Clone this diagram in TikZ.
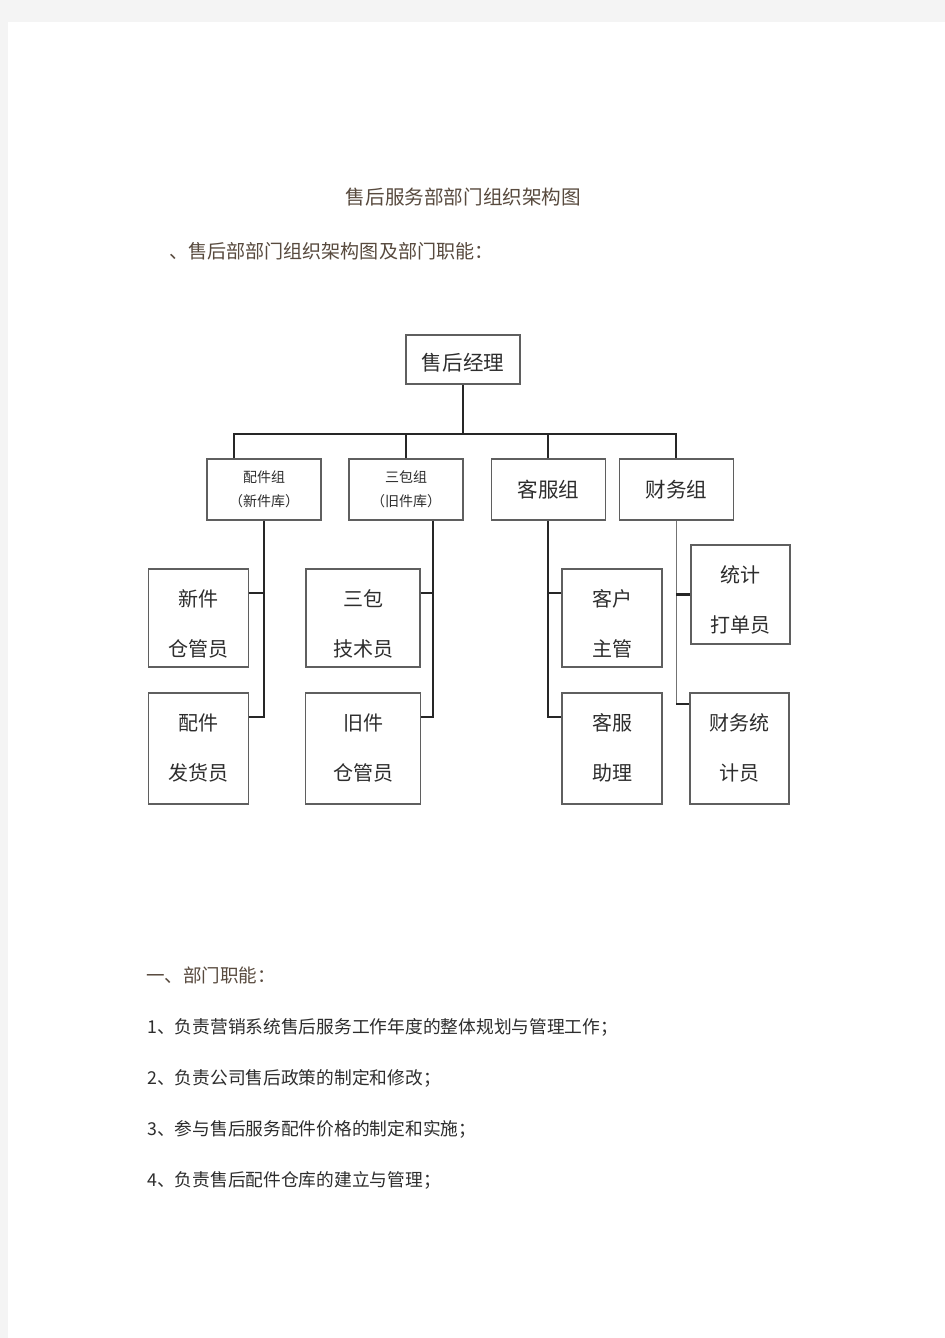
\documentclass[tikz,border=0pt]{standalone}
\usepackage{fontspec}
\setmainfont{Noto Sans CJK SC}
\usepackage{tikz}
\usetikzlibrary{positioning,calc}

\definecolor{pagegray}{RGB}{244,244,244}
\definecolor{boxline}{RGB}{95,95,95}
\definecolor{headcol}{RGB}{88,74,62}
\definecolor{bodycol}{RGB}{45,45,45}

\begin{document}
\begin{tikzpicture}[x=0.75pt,y=-0.75pt,
  box/.style={draw=boxline,line width=1.1pt,fill=white,inner sep=0pt,align=center,text=bodycol},
  role/.style={box,minimum width=75pt,font=\fontsize{15pt}{37.5pt}\selectfont,text depth=0pt},
  short role/.style={role,minimum height=73.5pt,text height=57.9pt},
  tall role/.style={role,minimum height=83.25pt,text height=48.15pt},
  group/.style={box,minimum width=85.5pt,minimum height=45.75pt},
  small/.style={font=\fontsize{10.5pt}{18pt}\selectfont},
  big/.style={font=\fontsize{15.4pt}{18pt}\selectfont},
  link/.style={line width=1.6pt,black!85},
  thin link/.style={line width=1pt,black!55},
  txtline/.style={anchor=west,inner sep=0pt,text=bodycol,font=\fontsize{13.3pt}{16pt}\selectfont}]

% page
\fill[pagegray] (0,0) rectangle (945,1338);
\fill[white] (8,22) rectangle (945,1338);

% headings
\node[inner sep=0pt,text=headcol,font=\fontsize{14.7pt}{18pt}\selectfont] (title) at (463.5,197) {售后服务部部门组织架构图};
\node[txtline,text=headcol,font=\fontsize{14.3pt}{18pt}\selectfont] (sub) at (169,251) {、售后部部门组织架构图及部门职能：};

% chart
\node[box,big,minimum width=85.5pt,minimum height=36.75pt,text height=17pt,text depth=0.5pt] (mgr) at (463,359.5) {售后经理};

\node[group,small] (pj) at (264,489.5) {配件组\\（新件库）};
\node[group,small] (sb) [right=20pt of pj] {三包组\\（旧件库）};
\node[group,big]   (kf) [right=20pt of sb] {客服组};
\node[group,big]   (cw) [right=9.5pt of kf] {财务组};

\node[short role] (xj) at (198.5,618) {新件\\仓管员};
\node[tall role] (fh) [below=18.5pt of xj] {配件\\发货员};
\node[short role,minimum width=85.5pt] (js) at (363,618) {三包\\技术员};
\node[tall role,minimum width=86.25pt] (jc) [below=18.5pt of js] {旧件\\仓管员};
\node[short role] (kh) at (612,618) {客户\\主管};
\node[tall role] (kz) [below=18.5pt of kh] {客服\\助理};
\node[short role,minimum width=74.25pt,minimum height=74.25pt,text height=57.15pt] (tj) at (740.5,594.5) {统计\\打单员};
\node[tall role,minimum width=74.25pt] (cj) at (739.5,748.5) {财务统\\计员};

\coordinate (bus) at (463,434);
\coordinate (pjtop) at ($(pj.north west)+(28,0)$);
\coordinate (sbt) at ($(sb.south)+(27,0)$);
\coordinate (xjin) at ($(xj.north east)+(0,25)$);
\coordinate (fhin) at ($(fh.north east)+(0,25)$);
\coordinate (jsin) at ($(js.north east)+(0,25)$);
\coordinate (jcin) at ($(jc.north east)+(0,25)$);
\coordinate (khin) at ($(kh.north west)+(0,25)$);
\coordinate (kzin) at ($(kz.north west)+(0,25)$);
\coordinate (cjin) at ($(cj.north west)+(0,12)$);

\draw[link] (mgr) -- (bus);
\draw[link] (pjtop) |- (bus) -| (cw.north);
\draw[link] (sb.north) -- (sb.north |- bus);
\draw[link] (kf.north) -- (kf.north |- bus);

\draw[link] (pj.south) |- (fhin);
\draw[link] (xjin) -- (pj.south |- xjin);
\draw[link] (sbt) |- (jcin);
\draw[link] (jsin) -- (sbt |- jsin);
\draw[link] (kf.south) |- (kzin);
\draw[link] (khin) -- (kf.south |- khin);
\draw[thin link] (cw.south) -- (cw.south |- cjin);
\draw[link] (tj.west) -- (cw.south |- tj.west);
\draw[link] (cjin) -- (cw.south |- cjin);

% duties
\node[txtline,text=headcol,font=\fontsize{13.9pt}{18pt}\selectfont] (duty) at (146,975) {一、部门职能：};
\node[txtline] (d1) at (147,1027) {1、负责营销系统售后服务工作年度的整体规划与管理工作；};
\node[txtline] (d2) at (147,1078) {2、负责公司售后政策的制定和修改；};
\node[txtline] (d3) at (147,1129) {3、参与售后服务配件价格的制定和实施；};
\node[txtline] (d4) at (147,1180) {4、负责售后配件仓库的建立与管理；};

\end{tikzpicture}
\end{document}
